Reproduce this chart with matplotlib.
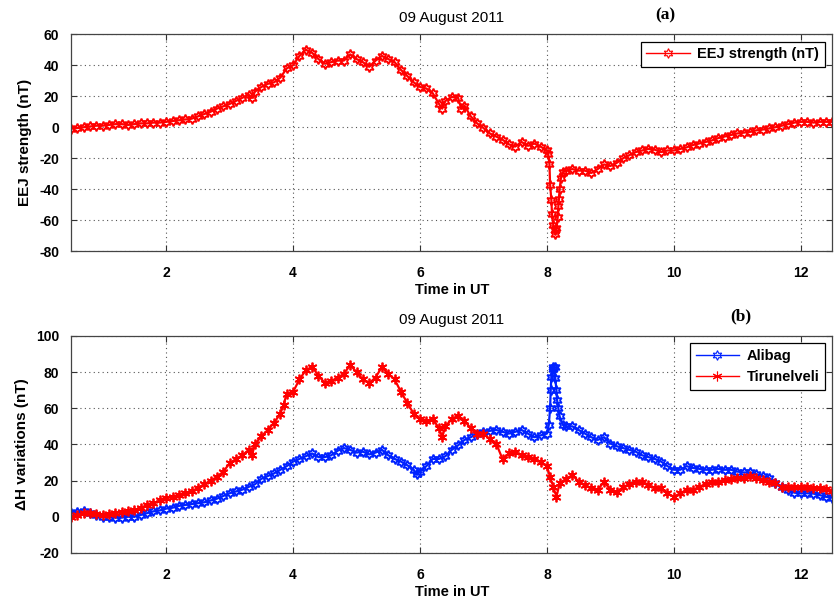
import matplotlib

matplotlib.use("Agg")
import matplotlib.pyplot as plt

plt.rcParams["font.family"] = ["Liberation Sans", "DejaVu Sans"]
plt.rcParams["axes.unicode_minus"] = False

# EEJ strength (nT), 09 Aug 2011
eej_t = [0.5, 0.6, 0.7, 0.8, 0.9, 1.0, 1.1, 1.2, 1.3, 1.4, 1.5, 1.6, 1.7, 1.8, 1.9,
         2.0, 2.1, 2.2, 2.3, 2.4, 2.5, 2.6, 2.7, 2.8, 2.9, 3.0, 3.1, 3.2, 3.3, 3.35,
         3.4, 3.5, 3.6, 3.7, 3.8, 3.9, 4.0, 4.1, 4.2, 4.3, 4.4, 4.5, 4.6, 4.7, 4.8,
         4.9, 5.0, 5.1, 5.2, 5.3, 5.4, 5.5, 5.6, 5.7, 5.8, 5.9, 6.0, 6.1, 6.2, 6.3,
         6.35, 6.4, 6.5, 6.6, 6.65, 6.7, 6.8, 6.9, 7.0, 7.1, 7.2, 7.3, 7.4, 7.5, 7.6,
         7.7, 7.8, 7.9, 8.0, 8.02, 8.04, 8.05, 8.07, 8.08, 8.1, 8.12, 8.13, 8.15,
         8.17, 8.18, 8.19, 8.2, 8.22, 8.25, 8.3, 8.4, 8.5, 8.6, 8.7, 8.8, 8.9, 9.0,
         9.1, 9.2, 9.3, 9.4, 9.5, 9.6, 9.7, 9.8, 9.9, 10.0, 10.1, 10.2, 10.3, 10.4,
         10.5, 10.6, 10.7, 10.8, 10.9, 11.0, 11.1, 11.2, 11.3, 11.4, 11.5, 11.6,
         11.7, 11.8, 11.9, 12.0, 12.1, 12.2, 12.3, 12.4, 12.5]
eej = [-1, -0.5, 0, 0.5, 1, 1, 1.5, 2, 2, 1.5, 2, 2.5, 2.5, 3, 3,
       3.5, 4, 4.5, 5, 5.5, 7, 8.5, 10, 12, 13.5, 15, 17, 19, 21, 19,
       23, 26, 28, 29, 32, 38, 40, 46, 50, 48, 44, 41, 42, 43, 43,
       47, 44, 42, 39, 43, 46, 44, 42, 37, 33, 29, 26, 25, 22, 15,
       12, 17, 19.5, 19, 12, 14, 7, 2.5, -0.5, -4, -6, -8, -11, -12.5, -9.5,
       -12, -10.5, -12.5, -15, -17, -24, -37, -47, -56, -63, -66, -69, -65,
       -58, -51, -46, -40, -33, -29, -28, -27, -28, -28, -29.5, -27, -24, -25,
       -23, -20, -18, -16, -15, -14, -14.5, -16, -15, -15, -14, -13, -11.5, -10.5,
       -9.5, -8.5, -7, -6, -5, -4, -3.5, -3, -2, -1.5, -0.8, 0,
       1, 2, 3, 3.5, 3.5, 3, 3.5, 3.5, 3.5]

# Delta H at Alibag
ali_t = [0.5, 0.6, 0.7, 0.8, 0.9, 1.0, 1.1, 1.2, 1.3, 1.4, 1.5, 1.6, 1.7, 1.8, 1.9,
         2.0, 2.1, 2.2, 2.3, 2.4, 2.5, 2.6, 2.7, 2.8, 2.9, 3.0, 3.1, 3.2, 3.3, 3.4,
         3.5, 3.6, 3.7, 3.8, 3.9, 4.0, 4.1, 4.2, 4.3, 4.4, 4.5, 4.6, 4.7, 4.8, 4.9,
         5.0, 5.1, 5.2, 5.3, 5.4, 5.5, 5.6, 5.7, 5.8, 5.9, 5.95, 6.0, 6.1, 6.2, 6.3,
         6.4, 6.5, 6.6, 6.7, 6.8, 6.9, 7.0, 7.1, 7.2, 7.3, 7.4, 7.5, 7.6, 7.7, 7.8,
         7.9, 8.0, 8.03, 8.05, 8.06, 8.07, 8.09, 8.1, 8.12, 8.13, 8.15, 8.16, 8.18,
         8.2, 8.25, 8.3, 8.4, 8.5, 8.6, 8.7, 8.8, 8.9, 9.0, 9.1, 9.2, 9.3, 9.4, 9.5,
         9.6, 9.7, 9.8, 9.9, 10.0, 10.1, 10.2, 10.3, 10.4, 10.5, 10.6, 10.7, 10.8,
         10.9, 11.0, 11.1, 11.2, 11.3, 11.4, 11.5, 11.6, 11.7, 11.8, 11.9, 12.0,
         12.1, 12.2, 12.3, 12.4, 12.5]
alibag = [2, 2.5, 3, 2, 1, 0, 0, -0.5, -0.5, 0, 0, 1, 2, 3, 3.5,
          4.5, 5, 6, 6.5, 7, 7.5, 8, 9, 10, 11.5, 13, 14, 15, 16.5, 18,
          21, 22.5, 24, 26, 28, 30.5, 32, 33.5, 35, 33, 33, 34, 36.5, 38, 37,
          35.5, 36, 34.5, 35.5, 37, 34, 32, 30.5, 28.5, 26, 23.5, 25, 28, 32, 32,
          33.5, 37, 39.5, 42.5, 44, 46, 47, 47.5, 48, 47, 46, 47, 48, 46, 44,
          45, 46, 51, 60, 70, 77.5, 83, 82, 83, 77, 70, 64.5, 60,
          55.5, 51, 50, 50, 48, 46, 44, 42.5, 44, 40.5, 39, 38, 37, 36, 34,
          33, 32, 30.5, 28, 26, 26, 28, 27, 26.5, 26, 26, 26.5, 26,
          26, 25, 24.5, 24.5, 23.5, 22.5, 21.3, 18.8, 16.4, 14.8, 13.3, 13,
          13, 12.8, 12, 11, 10.5]

# Delta H at Tirunelveli
tir_t = [0.5, 0.6, 0.7, 0.8, 0.9, 1.0, 1.1, 1.2, 1.3, 1.4, 1.5, 1.6, 1.7, 1.8, 1.9,
         2.0, 2.1, 2.2, 2.3, 2.4, 2.5, 2.6, 2.7, 2.8, 2.9, 3.0, 3.1, 3.2, 3.3, 3.35,
         3.4, 3.5, 3.6, 3.7, 3.8, 3.85, 3.9, 4.0, 4.1, 4.2, 4.3, 4.4, 4.5, 4.6, 4.7,
         4.8, 4.9, 5.0, 5.1, 5.2, 5.3, 5.4, 5.5, 5.6, 5.7, 5.8, 5.9, 6.0, 6.1, 6.2,
         6.3, 6.35, 6.4, 6.5, 6.6, 6.7, 6.8, 6.9, 7.0, 7.1, 7.2, 7.3, 7.4, 7.5, 7.6,
         7.7, 7.8, 7.9, 8.0, 8.05, 8.1, 8.15, 8.2, 8.3, 8.4, 8.5, 8.6, 8.7, 8.8, 8.9,
         9.0, 9.1, 9.2, 9.3, 9.4, 9.5, 9.6, 9.7, 9.8, 9.9, 10.0, 10.1, 10.2, 10.3,
         10.4, 10.5, 10.6, 10.7, 10.8, 10.9, 11.0, 11.1, 11.2, 11.3, 11.4, 11.5,
         11.6, 11.7, 11.8, 11.9, 12.0, 12.1, 12.2, 12.3, 12.4, 12.5]
tirunelveli = [0, 1, 2, 2, 1.5, 1, 1.5, 2, 2.5, 3, 3.7, 5, 6.5, 7.5, 9,
               10.3, 11, 12, 13, 14, 16, 18, 20, 22, 25, 29.5, 32, 34, 37, 34,
               40, 44.5, 48, 52, 57, 62, 68, 69, 76, 81, 83, 78, 74, 75, 77,
               79, 84, 80, 76, 74, 77, 83, 79, 76, 69, 63, 57, 54, 53, 54,
               49, 44, 50, 54, 56, 53, 49, 46, 46, 43, 40.5, 32, 35, 36, 34,
               33, 32, 30.5, 28, 22, 16.5, 11, 18.5, 21, 23, 19.5, 17.5, 15.7, 14.8, 19.4,
               15, 13.5, 16.4, 18, 19, 19.5, 17.6, 15.7, 15.7, 13, 11, 13, 14.8, 14.8,
               16.6, 18, 19, 19.5, 20.5, 21, 21.3, 21.3, 22.6, 21.3, 20.5, 19.5,
               18.4, 16.6, 16.5, 16.4, 16.4, 16.2, 16, 15.7, 15.2, 14]

DATE = "09 August 2011"
XTICKS = [2, 4, 6, 8, 10, 12]
HEXAGRAM = (6, 1, 0)
ASTERISK = (6, 2, 0)
SERIF = ["Liberation Serif", "DejaVu Serif"]


def style_axes(ax, yticks):
    ax.set_xlim(0.5, 12.5)
    ax.set_ylim(yticks[0], yticks[-1])
    ax.set_xticks(XTICKS)
    ax.set_yticks(yticks)
    ax.tick_params(direction="in", top=True, right=True, length=4, width=0.8,
                   labelsize=10, colors="#333333", labelcolor="black")
    ax.tick_params(axis="x", pad=10.5)
    ax.tick_params(axis="y", pad=8.5)
    for lab in ax.get_xticklabels() + ax.get_yticklabels():
        lab.set_fontweight("bold")
    ax.grid(True, linestyle=(0, (1, 3)), color="#555555", linewidth=0.8)
    for spine in ax.spines.values():
        spine.set_color("#444444")
        spine.set_linewidth(0.9)
    ax.set_xlabel("Time in UT", fontsize=10.5, fontweight="bold", labelpad=2.5)
    ax.set_title(DATE, fontsize=11, pad=8.5)


def boxed_legend(ax):
    leg = ax.legend(loc="upper right", numpoints=1, fancybox=False, framealpha=1,
                    prop={"size": 10.5, "weight": "bold"}, borderaxespad=0.5,
                    handlelength=3.0, borderpad=0.4, handletextpad=0.5)
    leg.get_frame().set_edgecolor("black")
    leg.get_frame().set_linewidth(0.9)
    for line in leg.get_lines():
        line.set_linewidth(1)
        line.set_markeredgewidth(0.8)
    return leg


fig = plt.figure(figsize=(8.35, 6.01), dpi=100, facecolor="white")
ax1 = fig.add_axes([0.085, 0.582, 0.912, 0.361])
ax2 = fig.add_axes([0.085, 0.080, 0.912, 0.361])

ax1.plot(eej_t, eej, color="red", linewidth=1.6, marker=HEXAGRAM, markersize=7,
         markerfacecolor="none", markeredgewidth=1.3, label="EEJ strength (nT)")
style_axes(ax1, [-80, -60, -40, -20, 0, 20, 40, 60])
ax1.set_ylabel("EEJ strength (nT)", fontsize=11, fontweight="bold", labelpad=5)
boxed_legend(ax1)
ax1.text(0.781, 1.085, "(a)", transform=ax1.transAxes, fontsize=12.5, fontweight="bold",
         family=SERIF, ha="center", va="center")

ax2.plot(ali_t, alibag, color="#0022ff", linewidth=1.6, marker=HEXAGRAM, markersize=7,
         markerfacecolor="none", markeredgewidth=1.3, label="Alibag")
ax2.plot(tir_t, tirunelveli, color="red", linewidth=1.6, marker=ASTERISK, markersize=7,
         markeredgewidth=1.3, label="Tirunelveli")
style_axes(ax2, [-20, 0, 20, 40, 60, 80, 100])
ax2.set_ylabel("\u0394H variations (nT)", fontsize=11, fontweight="bold", labelpad=5)
boxed_legend(ax2)
ax2.text(0.88, 1.09, "(b)", transform=ax2.transAxes, fontsize=12.5, fontweight="bold",
         family=SERIF, ha="center", va="center")

fig.savefig("out.png", dpi=100, facecolor="white")
